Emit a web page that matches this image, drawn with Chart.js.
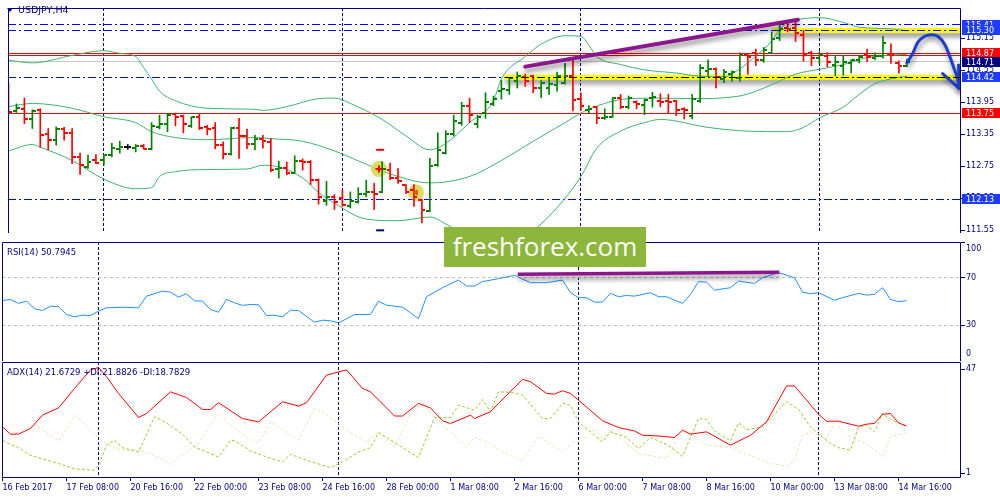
<!DOCTYPE html>
<html>
<head>
<meta charset="utf-8">
<script src="https://cdn.jsdelivr.net/npm/chart.js@4.4.1/dist/chart.umd.min.js"></script>
<style>
  body { margin: 0; background: #fff; }
  #wrap { position: relative; width: 1000px; height: 500px; overflow: hidden; background: #fff; font-family: 'DejaVu Sans', sans-serif; }
  #wrap canvas { position: absolute; left: 0; }
  .lbl { position: absolute; font-size: 8.5px; line-height: 10px; color: #000080; white-space: nowrap; }
  .tri { display: inline-block; width: 0; height: 0; border-left: 3px solid transparent; border-right: 3px solid transparent; border-top: 4px solid #000080; margin-right: 5px; vertical-align: 1px; }
  #brand { position: absolute; left: 444px; top: 227px; width: 202px; height: 40px; background: #8db63c; color: #fff; font-family: 'Open Sans', sans-serif; font-size: 26px; line-height: 38px; text-align: center; }
</style>
</head>
<body>
<div id="wrap">
  <canvas id="main" width="1000" height="241" style="top:0"></canvas>
  <canvas id="rsi" width="1000" height="120" style="top:241px"></canvas>
  <canvas id="adx" width="1000" height="139" style="top:361px"></canvas>
  <div class="lbl" style="left:7px;top:5px;font-size:9.5px"><span class="tri"></span>USDJPY,H4</div>
  <div class="lbl" style="left:7px;top:247px">RSI(14) 50.7945</div>
  <div class="lbl" style="left:7px;top:367px">ADX(14) 21.6729 +DI:21.8826 -DI:18.7829</div>
  <div id="brand">freshforex.com</div>
</div>
<script>
// bars are H4 candles, numbered from 16 Feb 2017 00:00
const dateBars = [0, 8, 16, 24, 32, 40, 48, 56, 64, 72, 80, 88, 96, 104, 112]
const dateLabels = ['16 Feb 2017', '17 Feb 08:00', '20 Feb 16:00', '22 Feb 00:00', '23 Feb 08:00',
  '24 Feb 16:00', '28 Feb 00:00', '1 Mar 08:00', '2 Mar 16:00', '6 Mar 00:00', '7 Mar 08:00',
  '8 Mar 16:00', '10 Mar 00:00', '13 Mar 08:00', '14 Mar 16:00']
const separatorBars = [12, 42, 72, 102]

const opens = [114.28, 113.78, 113.82, 113.63, 113.80, 113.36, 113.24, 113.45, 113.38, 112.92,
  112.74, 112.86, 112.86, 112.96, 113.07, 113.12, 113.10, 113.13, 113.08, 113.48,
  113.55, 113.73, 113.69, 113.50, 113.67, 113.49, 113.46, 113.15, 112.98, 113.46,
  113.32, 113.16, 113.26, 113.21, 112.70, 112.72, 112.63, 112.85, 112.83, 112.49,
  112.10, 112.18, 112.15, 112.00, 112.09, 112.24, 112.27, 112.27, 112.69, 112.53,
  112.40, 112.30, 112.12, 111.91, 112.77, 113.00, 113.35, 113.56, 113.89, 113.55,
  113.76, 113.92, 114.17, 114.19, 114.36, 114.42, 114.45, 114.22, 114.22, 114.27,
  114.31, 114.45, 114.01, 113.80, 113.86, 113.65, 113.68, 114.03, 113.86, 113.95,
  113.90, 114.03, 113.97, 113.98, 113.97, 113.82, 113.69, 113.98, 114.54, 114.58,
  114.39, 114.48, 114.40, 114.84, 114.87, 114.75, 114.88, 115.16, 115.34, 115.34,
  115.22, 114.88, 114.78, 114.82, 114.66, 114.64, 114.69, 114.75, 114.83, 114.79,
  114.82, 114.86, 114.69, 114.63]
const highs = [114.31, 113.92, 114.03, 113.81, 113.83, 113.46, 113.49, 113.48, 113.46, 113.00,
  112.96, 112.97, 112.97, 113.18, 113.22, 113.16, 113.16, 113.16, 113.57, 113.71,
  113.74, 113.75, 113.71, 113.68, 113.74, 113.52, 113.57, 113.21, 113.48, 113.65,
  113.45, 113.33, 113.33, 113.27, 112.85, 112.83, 112.95, 112.89, 112.86, 112.51,
  112.47, 112.22, 112.31, 112.27, 112.35, 112.49, 112.43, 112.84, 112.81, 112.71,
  112.41, 112.41, 112.13, 112.90, 113.38, 113.42, 113.71, 113.95, 114.03, 113.71,
  114.13, 114.07, 114.36, 114.42, 114.52, 114.48, 114.46, 114.36, 114.42, 114.52,
  114.68, 114.75, 114.13, 113.89, 113.87, 113.83, 114.04, 114.10, 114.07, 113.98,
  114.01, 114.14, 114.11, 114.10, 113.99, 113.85, 114.10, 114.66, 114.75, 114.60,
  114.57, 114.54, 114.88, 114.87, 114.95, 114.98, 115.27, 115.41, 115.44, 115.50,
  115.30, 114.91, 114.90, 114.88, 114.81, 114.82, 114.75, 114.82, 114.95, 114.88,
  115.19, 115.05, 114.73, 114.76]
const lows = [113.74, 113.76, 113.55, 113.46, 113.11, 113.06, 113.15, 113.24, 112.80, 112.60,
  112.71, 112.80, 112.77, 112.93, 113.00, 113.07, 113.02, 113.07, 113.06, 113.45,
  113.40, 113.51, 113.38, 113.48, 113.44, 113.34, 113.08, 112.89, 112.96, 112.90,
  113.08, 113.06, 113.09, 112.65, 112.53, 112.59, 112.62, 112.68, 112.41, 112.04,
  112.02, 111.94, 112.00, 111.97, 112.06, 112.18, 111.94, 112.25, 112.50, 112.43,
  112.24, 112.00, 111.69, 111.90, 112.75, 112.98, 113.32, 113.52, 113.57, 113.47,
  113.65, 113.89, 114.01, 114.10, 114.22, 114.25, 114.13, 114.04, 114.10, 114.16,
  114.29, 113.79, 113.80, 113.74, 113.55, 113.63, 113.67, 113.83, 113.83, 113.83,
  113.72, 113.86, 113.87, 113.74, 113.70, 113.64, 113.64, 113.95, 114.44, 114.22,
  114.32, 114.35, 114.35, 114.48, 114.64, 114.70, 114.87, 115.11, 115.27, 115.09,
  114.72, 114.64, 114.68, 114.62, 114.45, 114.46, 114.50, 114.69, 114.72, 114.75,
  114.78, 114.68, 114.50, 114.62]
const closes = [113.77, 113.85, 113.63, 113.79, 113.34, 113.24, 113.45, 113.38, 112.92, 112.77,
  112.83, 112.82, 112.96, 113.09, 113.11, 113.12, 113.13, 113.08, 113.51, 113.55,
  113.71, 113.68, 113.54, 113.67, 113.46, 113.45, 113.15, 112.98, 113.46, 113.32,
  113.16, 113.26, 113.22, 112.68, 112.72, 112.63, 112.85, 112.83, 112.49, 112.18,
  112.18, 112.09, 112.03, 112.10, 112.24, 112.27, 112.24, 112.70, 112.53, 112.47,
  112.27, 112.18, 111.94, 112.75, 113.06, 113.36, 113.60, 113.88, 113.71, 113.68,
  113.95, 114.01, 114.20, 114.40, 114.45, 114.35, 114.22, 114.32, 114.30, 114.45,
  114.45, 113.99, 113.89, 113.83, 113.65, 113.68, 114.03, 113.87, 114.03, 113.92,
  113.99, 114.05, 113.95, 113.96, 113.80, 113.80, 114.01, 114.60, 114.58, 114.42,
  114.52, 114.52, 114.84, 114.81, 114.75, 114.93, 115.13, 115.33, 115.33, 115.25,
  114.84, 114.78, 114.84, 114.70, 114.70, 114.70, 114.75, 114.80, 114.80, 114.82,
  115.07, 114.84, 114.64, 114.71]

// Bollinger bands, [bar, price]
const bbUpper = [[0, 114.74], [3, 114.69], [8, 114.83], [12, 114.92], [14, 114.87], [16, 114.81], [17, 114.60],
  [18, 114.39], [19, 114.16], [21, 113.98], [25, 113.84], [31, 113.82], [32, 113.80], [35, 113.87], [39, 114.02],
  [41, 114.03], [43, 113.93], [47, 113.63], [50, 113.32], [53, 113.06], [55, 113.18], [58, 113.57], [61, 113.98],
  [62, 114.39], [65, 114.81], [67, 115.04], [70, 115.20], [72, 115.19], [73, 115.02], [74, 114.81], [77, 114.66],
  [80, 114.56], [84, 114.50], [87, 114.44], [90, 114.43], [92, 114.58], [94, 114.82], [96, 115.10], [97, 115.32],
  [98, 115.45], [100, 115.52], [102, 115.54], [105, 115.45], [107, 115.36], [111, 115.33], [113, 115.29]]
const bbMiddle = [[0, 113.87], [3, 113.93], [8, 113.84], [12, 113.68], [16, 113.57], [18, 113.40], [21, 113.29],
  [25, 113.25], [31, 113.29], [33, 113.27], [37, 113.22], [41, 113.04], [45, 112.79], [49, 112.56], [53, 112.44],
  [58, 112.56], [62, 112.86], [66, 113.22], [70, 113.57], [72, 113.75], [75, 113.93], [78, 114.02], [82, 114.03],
  [86, 114.02], [92, 114.07], [96, 114.28], [99, 114.48], [102, 114.57], [105, 114.66], [108, 114.79],
  [110, 114.83], [113, 114.85]]
const bbLower = [[0, 113.04], [3, 113.16], [4, 113.11], [8, 112.86], [12, 112.51], [16, 112.33], [18, 112.35],
  [19, 112.56], [21, 112.65], [25, 112.69], [30, 112.70], [32, 112.77], [34, 112.74], [37, 112.53], [39, 112.26],
  [41, 112.06], [45, 111.76], [49, 111.73], [53, 111.80], [55, 111.67], [58, 111.40], [62, 111.30], [65, 111.45],
  [67, 111.67], [70, 112.15], [72, 112.56], [74, 113.09], [77, 113.41], [80, 113.57], [82, 113.63], [88, 113.48],
  [93, 113.41], [98, 113.40], [100, 113.48], [102, 113.66], [105, 113.86], [107, 114.10], [109, 114.30],
  [111, 114.39], [113, 114.44]]

const rsiValues = [[0, 50.9], [1, 51.7], [2, 48.4], [3, 50.3], [4, 43.9], [5, 42.4], [6, 46.1], [7, 45.6], [8, 39.1],
  [9, 37.1], [10, 38.5], [11, 38.2], [12, 41.9], [13, 44.7], [15, 45.2], [17, 44.7], [18, 54.5], [20, 58.7],
  [21, 57.9], [22, 53.7], [23, 56.5], [24, 50.6], [25, 50.3], [26, 43.3], [27, 41.0], [28, 51.7], [29, 48.9],
  [30, 46.7], [31, 47.5], [32, 47.3], [33, 38.2], [34, 38.5], [35, 37.1], [36, 42.7], [37, 42.4], [39, 32.6],
  [40, 34.3], [41, 33.8], [42, 32.1], [43, 35.4], [44, 39.1], [46, 39.1], [47, 50.3], [48, 46.9], [50, 45.2],
  [51, 40.5], [52, 35.7], [53, 54.0], [55, 61.6], [57, 68.0], [58, 63.0], [59, 63.0], [60, 66.7], [62, 69.2],
  [64, 72.0], [66, 65.8], [68, 65.8], [70, 68.0], [71, 57.4], [72, 53.2], [73, 53.2], [74, 49.5], [75, 49.5],
  [76, 56.8], [77, 54.0], [78, 55.1], [79, 54.5], [81, 57.4], [82, 54.0], [83, 54.0], [85, 48.4], [86, 56.0],
  [87, 66.7], [88, 66.3], [89, 59.6], [91, 61.6], [92, 67.2], [94, 65.2], [95, 70.0], [97, 74.3], [99, 70.0],
  [100, 57.9], [101, 56.5], [102, 57.4], [104, 51.1], [105, 53.2], [107, 56.8], [108, 55.4], [109, 56.0],
  [110, 61.6], [111, 51.7], [112, 49.8], [113, 50.8]]

const adxValues = [[0, 21.4], [1, 18.2], [2, 18.2], [3.5, 20.7], [5, 26.6], [7, 29.8], [9, 38.4], [11, 46.6],
  [12, 47.7], [13, 43.6], [14.5, 36.2], [17, 25.6], [18, 27.3], [21, 36.9], [23, 34.4], [25, 29.1], [26, 29.1],
  [27, 32.1], [30, 25.1], [32, 23.6], [35, 32.5], [37, 30.6], [38, 32.1], [40.5, 44.3], [43, 46.6], [45, 38.4],
  [46, 36.9], [49, 26.2], [50, 26.2], [52, 31.8], [53.5, 29.8], [55, 24.1], [56, 22.9], [58.5, 26.6], [59, 25.1],
  [61, 28.1], [62, 31.8], [65, 42.4], [66, 41.4], [68, 36.2], [69, 35.9], [70, 37.4], [71, 36.2], [72, 33.2],
  [75, 24.1], [77, 21.1], [79, 19.6], [80, 17.7], [82, 17.4], [84, 16.7], [85, 19.9], [86, 18.2], [88, 19.2],
  [91, 13.3], [93.5, 17.7], [95.5, 23.6], [98, 39.5], [99, 39.5], [102, 27.0], [103, 23.9], [104.5, 23.9],
  [107, 21.7], [108, 22.6], [109, 22.9], [110, 27.0], [111, 27.3], [112, 23.2], [113, 21.7]]
const plusDI = [[0, 15.2], [2, 12.2], [3.5, 8.8], [7, 5.2], [9, 2.9], [11.5, 2.2], [12, 4.4], [13, 13.3], [14, 15.5],
  [15, 12.2], [17, 10.3], [19, 25.9], [20.5, 23.2], [22.5, 18.2], [24, 12.5], [27, 8.1], [28.5, 15.5], [29, 15.2],
  [31, 10.8], [33, 8.1], [35, 5.9], [36, 9.3], [38, 6.6], [41, 3.4], [42.5, 5.9], [44.5, 10.3], [46, 12.2],
  [47, 18.8], [48, 16.7], [50, 12.2], [52, 7.8], [54, 25.6], [56, 25.6], [57, 31.0], [59, 28.8], [60, 33.5],
  [61, 28.1], [62, 36.9], [63.5, 36.7], [65, 35.5], [67.5, 25.1], [68.5, 25.1], [70, 31.8], [71, 31.0],
  [72, 23.6], [73.5, 19.2], [75, 14.8], [76, 19.2], [78, 16.7], [79.5, 11.8], [81, 16.7], [83, 13.7], [85, 8.4],
  [87, 25.1], [88, 24.7], [89, 19.6], [91, 15.2], [92, 23.2], [93, 20.2], [95, 21.4], [98, 32.5], [99.5, 29.1],
  [101, 21.4], [103.5, 14.0], [104.5, 12.2], [106, 11.1], [107, 21.4], [108, 22.2], [109, 19.2], [110, 27.3],
  [111, 24.7], [113, 21.9]]
const minusDI = [[0, 15.2], [2, 19.2], [4, 22.2], [7, 15.2], [9, 26.6], [10, 23.6], [12, 16.2], [14, 11.8],
  [15.5, 11.1], [17, 11.1], [19, 8.8], [21, 4.9], [23, 10.3], [24.5, 14.0], [27, 27.6], [28.5, 22.2], [30.5, 16.7],
  [32, 14.3], [33.5, 23.6], [35.5, 19.2], [37, 15.5], [39, 29.6], [40.5, 27.0], [43, 19.9], [45.5, 14.8],
  [47, 19.2], [49, 12.2], [51, 27.6], [52.5, 31.8], [54, 25.6], [57, 15.8], [58, 12.5], [59, 16.7], [61, 14.0],
  [62, 11.3], [65, 6.3], [67, 17.3], [70, 10.3], [72, 17.0], [73, 16.7], [74, 20.7], [75, 16.2], [76, 19.9],
  [78.5, 12.5], [79.5, 9.6], [83, 7.4], [85, 20.7], [88, 13.3], [91, 12.2], [94, 8.1], [96, 5.2], [98, 4.0],
  [99, 6.6], [100, 17.7], [101, 19.2], [103, 16.2], [104, 23.2], [105.5, 17.7], [108, 14.0], [110, 8.1],
  [111, 17.0], [113, 18.8]]

const priceTicks = [115.15, 114.55, 113.95, 113.35, 112.75, 112.15, 111.55]
const rsiTicks = [100, 70, 30, 0]
const rsiLevels = [70, 30]
const adxTicks = [47, 1]

// drawn levels
const blueLevels = [115.41, 115.30, 114.42, 112.13]
const redLevels = [114.87, 114.835, 113.75]
const bidPrice = 114.71
const boxPrices = [115.41, 115.30, 114.87, 114.71, 114.42, 113.75, 112.13]
const supportZone = [62.4, 114.42]      // [from bar, price]
const resistanceZone = [96.2, 115.30]
const trendMain = [[65, 114.62], [99.3, 115.50]]
const trendRsi = [[64.4, 73.0], [97.1, 74.6]]
const arrowPath = [[113, 114.69], [113.75, 114.87], [114.4, 115.08], [115.25, 115.19], [116.1, 115.22],
  [116.9, 115.19], [117.75, 115.04], [118.4, 114.81], [119, 114.56], [119.4, 114.39], [119.6, 114.21]]
const arrowHead = [[117.5, 114.49], [119.6, 114.21], [119.5, 114.65]]
const circleMarks = [[46.6, 112.70], [51.25, 112.26]]
const fractalUp = [[46.75, 113.06]]
const fractalDown = [[46.75, 111.55]]

// styles
const NAVY = '#000080'
const UP = '#008000'
const DOWN = '#ff0000'
const BB = '#3cb371'
const boxColors = ['#1e3cff', '#1e3cff', '#ff0000', '#000080', '#1e3cff', '#ff0000', '#1e3cff']
const DASHDOT = [8, 3, 2, 3]
const X_MIN = -0.0625
const X_MAX = 119.8125

Chart.defaults.font.family = "'DejaVu Sans', sans-serif"
Chart.defaults.font.size = 8
Chart.defaults.color = NAVY

const pts = arr => arr.map(([x, y]) => ({ x, y }))
const barColor = i => closes[i] > opens[i] ? UP : (closes[i] < opens[i] ? DOWN : '#000')

const tickImages = {}
const tickImage = (color, side) => {
  const key = color + side
  if (!tickImages[key]) {
    const c = document.createElement('canvas')
    c.width = 7
    c.height = 2
    const g = c.getContext('2d')
    g.fillStyle = color
    g.fillRect(side === 'open' ? 0 : 4, 0, 3, 2)
    tickImages[key] = c
  }
  return tickImages[key]
}

const lineDs = (data, color, width, extra) => Object.assign({
  type: 'line', data: pts(data), borderColor: color, borderWidth: width,
  pointRadius: 0, fill: false
}, extra)

const shadowPlugin = {
  id: 'shadow',
  beforeDatasetDraw (chart, args) {
    if (chart.data.datasets[args.index].shadow) {
      const c = chart.ctx
      c.save()
      c.shadowColor = 'rgba(0,0,0,0.45)'
      c.shadowBlur = 5
      c.shadowOffsetX = 1
      c.shadowOffsetY = 4
    }
  },
  afterDatasetDraw (chart, args) {
    if (chart.data.datasets[args.index].shadow) chart.ctx.restore()
  }
}

const drawLevels = (chart, list) => {
  const { ctx, chartArea: a, scales } = chart
  ctx.save()
  ctx.beginPath()
  ctx.rect(a.left, a.top, a.right - a.left, a.bottom - a.top)
  ctx.clip()
  list.forEach(l => {
    ctx.strokeStyle = l.color
    ctx.fillStyle = l.color
    ctx.lineWidth = 1
    ctx.setLineDash(l.dash || [])
    if (l.bar !== undefined) {
      const px = Math.floor(scales.x.getPixelForValue(l.bar)) + 0.5
      ctx.beginPath()
      ctx.moveTo(px, a.top)
      ctx.lineTo(px, a.bottom)
      ctx.stroke()
      return
    }
    const py = Math.floor(scales.y.getPixelForValue(l.value))
    const x0 = l.from !== undefined ? Math.round(scales.x.getPixelForValue(l.from)) : a.left
    if (!l.dash) {
      ctx.fillRect(x0, py, a.right - x0, 1)
      return
    }
    ctx.beginPath()
    ctx.moveTo(x0, py + 0.5)
    ctx.lineTo(a.right, py + 0.5)
    ctx.stroke()
  })
  ctx.restore()
}

const levelsPlugin = (under, over) => ({
  id: 'levels',
  beforeDatasetsDraw (chart) { drawLevels(chart, under) },
  afterDatasetsDraw (chart) { drawLevels(chart, over) }
})

const framePlugin = (withBottom) => ({
  id: 'frame',
  afterDraw (chart) {
    const { ctx, chartArea: a } = chart
    ctx.save()
    ctx.strokeStyle = NAVY
    ctx.lineWidth = 1
    ctx.beginPath()
    ctx.moveTo(a.left + 0.5, withBottom ? a.bottom - 0.5 : a.bottom)
    ctx.lineTo(a.left + 0.5, a.top + 0.5)
    ctx.lineTo(a.right - 0.5, a.top + 0.5)
    ctx.lineTo(a.right - 0.5, withBottom ? a.bottom - 0.5 : a.bottom)
    if (withBottom) ctx.lineTo(a.left + 0.5, a.bottom - 0.5)
    ctx.stroke()
    ctx.restore()
  }
})

const priceBoxPlugin = {
  id: 'priceBoxes',
  afterDraw (chart) {
    const { ctx, chartArea: a, scales: { y } } = chart
    ctx.save()
    ctx.font = "8px 'DejaVu Sans'"
    ctx.textBaseline = 'middle'
    boxPrices.forEach((v, i) => {
      const py = Math.round(y.getPixelForValue(v))
      ctx.fillStyle = boxColors[i]
      ctx.fillRect(a.right + 1, py - 5, 40, 10)
      ctx.fillStyle = '#fff'
      ctx.fillText(v.toFixed(2), a.right + 5, py + 0.5)
    })
    ctx.restore()
  }
}

const edgeLabelPlugin = (items) => ({
  id: 'edgeLabels',
  afterDraw (chart) {
    const { ctx, chartArea: a, scales: { y } } = chart
    ctx.save()
    ctx.font = "8px 'DejaVu Sans'"
    ctx.fillStyle = NAVY
    ctx.textBaseline = 'middle'
    items.forEach(([v, shift]) => ctx.fillText(String(v), a.right + 5, y.getPixelForValue(v) + shift))
    ctx.restore()
  }
})

const hiddenX = { type: 'linear', min: X_MIN, max: X_MAX, display: false, offset: false }

const rightAxis = (min, max, ticks, fmt) => ({
  type: 'linear', position: 'right', min, max,
  afterBuildTicks: s => { s.ticks = ticks.map(v => ({ value: v })) },
  afterFit: s => { s.width = 39; s.paddingTop = 0; s.paddingBottom = 0 },
  grid: { drawOnChartArea: false, drawTicks: true, tickLength: 4, color: NAVY },
  border: { display: false },
  ticks: { color: NAVY, padding: 1, autoSkip: false, callback: fmt }
})

const baseOptions = (scales, padding) => ({
  responsive: false,
  animation: false,
  events: [],
  layout: { padding },
  plugins: { legend: { display: false }, tooltip: { enabled: false } },
  scales
})

const separators = separatorBars.map(b => ({ bar: b, color: NAVY, dash: [3, 2] }))

// ---------- main price panel ----------
new Chart(document.getElementById('main'), {
  type: 'bar',
  data: {
    datasets: [
      lineDs([[resistanceZone[0], resistanceZone[1]], [X_MAX + 1, resistanceZone[1]]], '#ffff00', 5, { order: 20, shadow: true }),
      lineDs([[supportZone[0], supportZone[1]], [X_MAX + 1, supportZone[1]]], '#ffff00', 5, { order: 20, shadow: true }),
      lineDs(bbUpper, BB, 1, { order: 10, cubicInterpolationMode: 'monotone' }),
      lineDs(bbMiddle, BB, 1, { order: 10, cubicInterpolationMode: 'monotone' }),
      lineDs(bbLower, BB, 1, { order: 10, cubicInterpolationMode: 'monotone' }),
      lineDs(circleMarks, 'rgba(0,0,0,0)', 0, {
        order: 8, showLine: false, pointRadius: 8, pointBackgroundColor: 'rgba(214,214,70,0.85)', pointBorderWidth: 0
      }),
      {
        type: 'bar', order: 5, grouped: false, barThickness: 1,
        data: lows.map((l, i) => ({ x: i, y: [l, highs[i]] })),
        backgroundColor: ctx => barColor(ctx.dataIndex)
      },
      lineDs(opens.map((o, i) => [i, o]), 'rgba(0,0,0,0)', 0, {
        order: 4, showLine: false, pointRadius: 3, pointStyle: ctx => tickImage(barColor(ctx.dataIndex), 'open')
      }),
      lineDs(closes.map((c, i) => [i, c]), 'rgba(0,0,0,0)', 0, {
        order: 4, showLine: false, pointRadius: 3, pointStyle: ctx => tickImage(barColor(ctx.dataIndex), 'close')
      }),
      lineDs(circleMarks.slice(0, 1), 'rgba(0,0,0,0)', 0, {
        order: 3, showLine: false, pointRadius: 3.5, pointStyle: 'cross', pointBorderColor: DOWN, pointBorderWidth: 2
      }),
      lineDs(circleMarks.slice(1), 'rgba(0,0,0,0)', 0, {
        order: 3, showLine: false, pointRadius: 3, pointStyle: 'triangle', pointRotation: -90,
        pointBackgroundColor: '#e05a00', pointBorderColor: '#e05a00', pointBorderWidth: 1
      }),
      lineDs(fractalUp, 'rgba(0,0,0,0)', 0, {
        order: 3, showLine: false, pointRadius: 4, pointStyle: 'line', pointBorderColor: DOWN, pointBorderWidth: 2
      }),
      lineDs(fractalDown, 'rgba(0,0,0,0)', 0, {
        order: 3, showLine: false, pointRadius: 4, pointStyle: 'line', pointBorderColor: NAVY, pointBorderWidth: 2
      }),
      lineDs(trendMain, '#8c168c', 4, { order: 1, shadow: true, borderCapStyle: 'round' }),
      lineDs(arrowPath, '#1b3ccf', 3, { order: 0, shadow: true, tension: 0.4, borderCapStyle: 'round', borderJoinStyle: 'round' }),
      lineDs(arrowHead, '#1b3ccf', 3, { order: 0, shadow: true, borderCapStyle: 'round', borderJoinStyle: 'round' })
    ]
  },
  options: baseOptions({
    x: hiddenX,
    y: rightAxis(111.50, 115.72, priceTicks, v => v.toFixed(2))
  }, { top: 2, bottom: 1, left: 2, right: 0 }),
  plugins: [
    shadowPlugin,
    levelsPlugin(
      [
        ...separators,
        ...blueLevels.map(v => ({ value: v, color: '#0000ff', dash: DASHDOT })),
        ...redLevels.map(v => ({ value: v, color: '#ff0000' })),
        { value: bidPrice, color: '#c8c8c8' }
      ],
      [
        { value: resistanceZone[1], from: resistanceZone[0], color: '#0000ff', dash: DASHDOT },
        { value: supportZone[1], from: supportZone[0], color: '#000000', dash: DASHDOT }
      ]
    ),
    framePlugin(false),
    priceBoxPlugin
  ]
})

// ---------- RSI panel ----------
new Chart(document.getElementById('rsi'), {
  type: 'line',
  data: {
    datasets: [
      lineDs(rsiValues, '#1e90ff', 1, { order: 2 }),
      lineDs(trendRsi, '#8c168c', 3.5, { order: 1, shadow: true })
    ]
  },
  options: baseOptions({
    x: hiddenX,
    y: rightAxis(0, 100, rsiTicks, v => (v === 100 || v === 0) ? '' : String(v))
  }, { top: 1, bottom: 0, left: 2, right: 0 }),
  plugins: [
    shadowPlugin,
    levelsPlugin([...separators, ...rsiLevels.map(v => ({ value: v, color: '#bebebe', dash: [3, 3] }))], []),
    framePlugin(false),
    edgeLabelPlugin([[100, 7], [0, -7]])
  ]
})

// ---------- ADX panel ----------
new Chart(document.getElementById('adx'), {
  type: 'line',
  data: {
    datasets: [
      lineDs(minusDI, '#f5deb3', 1, { order: 2, borderDash: [3, 2] }),
      lineDs(plusDI, '#9acd32', 1, { order: 1, borderDash: [3, 2] }),
      lineDs(adxValues, '#ff0000', 1, { order: 0 })
    ]
  },
  options: baseOptions({
    x: {
      type: 'linear', min: X_MIN, max: X_MAX, position: 'bottom', offset: false,
      afterBuildTicks: s => { s.ticks = dateBars.map(v => ({ value: v })) },
      afterFit: s => { s.height = 22; s.paddingLeft = 0; s.paddingRight = 0 },
      grid: { drawOnChartArea: false, drawTicks: true, tickLength: 3, color: NAVY },
      border: { display: false },
      ticks: {
        align: 'start', maxRotation: 0, autoSkip: false, color: NAVY, padding: 2,
        callback: v => dateLabels[dateBars.indexOf(v)]
      }
    },
    y: rightAxis(-1.21, 50.1, adxTicks, v => String(v))
  }, { top: 1, bottom: 0, left: 2, right: 0 }),
  plugins: [levelsPlugin(separators, []), framePlugin(true)]
})
</script>
</body>
</html>
